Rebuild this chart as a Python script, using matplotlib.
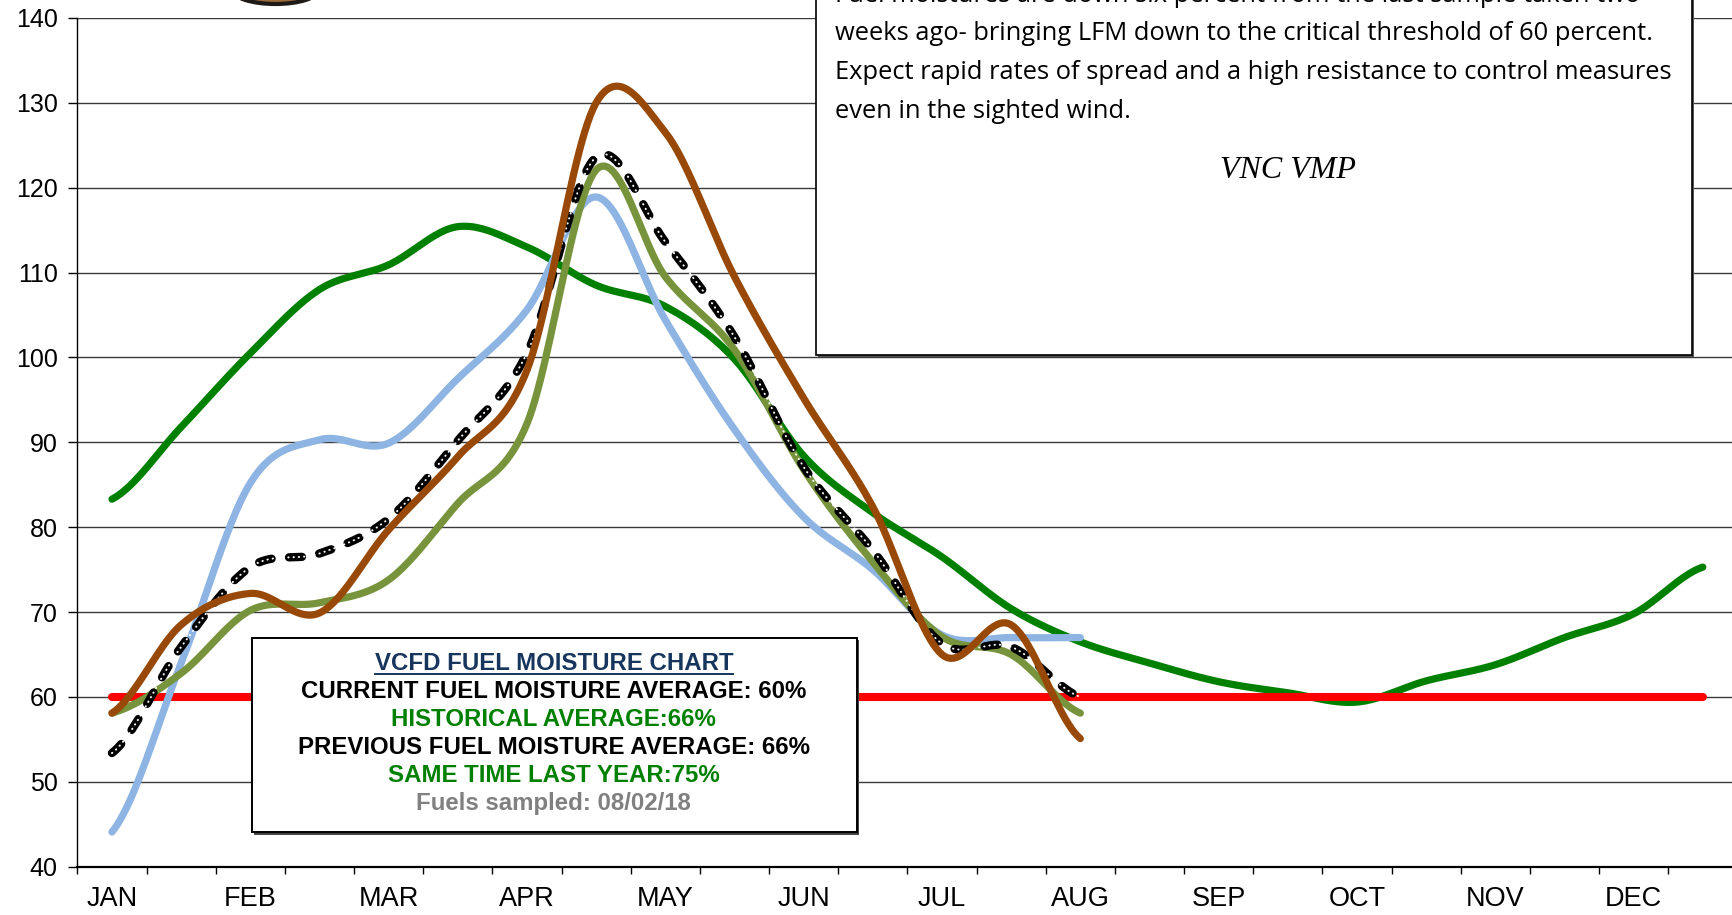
import numpy as np
import matplotlib.pyplot as plt
from matplotlib.patches import Rectangle, Ellipse
from matplotlib.lines import Line2D

# two samples per month, JAN 1 .. DEC 15
months = ['JAN', 'FEB', 'MAR', 'APR', 'MAY', 'JUN',
          'JUL', 'AUG', 'SEP', 'OCT', 'NOV', 'DEC']
historical = [83.3, 91.8, 100.5, 108.0, 110.9, 115.4, 113.0, 108.5, 106.0, 99.8,
              88.4, 81.7, 76.5, 70.4, 66.5, 64.0, 61.8, 60.5, 59.4, 61.9,
              63.8, 67.0, 69.8, 75.3]
current = [53.4, 65.9, 75.3, 76.9, 81.0, 90.2, 100.5, 123.6, 113.6, 102.4,
           87.1, 77.3, 66.3, 65.9, 60.0]
year_blue = [44.1, 64.0, 85.2, 90.3, 89.9, 97.5, 105.6, 118.9, 104.4, 91.5,
             81.2, 75.0, 67.3, 67.0, 67.0]
year_olive = [58.1, 62.8, 70.2, 71.1, 73.8, 82.8, 92.2, 122.1, 109.5, 100.9,
              86.8, 75.9, 67.1, 65.0, 58.1]
year_brown = [58.1, 68.5, 72.2, 69.9, 79.7, 88.3, 98.5, 130.0, 126.5, 109.5,
              95.2, 82.4, 65.0, 68.5, 55.1]
threshold = [60] * 24

W, H = 1733, 915


def smooth(y, n=24):
    # excel style smoothed line (cardinal spline through every point)
    y = np.asarray(y, float)
    p = np.concatenate([[y[0]], y, [y[-1]]])
    t = np.linspace(0, 1, n, endpoint=False)
    xs, ys = [], []
    for i in range(len(y) - 1):
        p0, p1, p2, p3 = p[i], p[i + 1], p[i + 2], p[i + 3]
        m1 = (p2 - p0) / 2
        m2 = (p3 - p1) / 2
        h00 = 2 * t**3 - 3 * t**2 + 1
        h10 = t**3 - 2 * t**2 + t
        h01 = -2 * t**3 + 3 * t**2
        h11 = t**3 - t**2
        xs.append(i + t)
        ys.append(h00 * p1 + h10 * m1 + h01 * p2 + h11 * m2)
    xs.append([len(y) - 1])
    ys.append([y[-1]])
    return np.concatenate(xs), np.concatenate(ys)


def fx(x):
    return x / W


def fy(y):
    return 1 - y / H


fig = plt.figure(figsize=(W / 100, H / 100), dpi=100)
ax = fig.add_axes([fx(77.4), fy(866.8), 1660 / W, 849 / H])

lw = 5.2
x, y = smooth(historical)
ax.plot(x, y, color='#008000', lw=lw, solid_capstyle='round', zorder=2)
ax.plot(range(24), threshold, color='#FF0000', lw=5.8, solid_capstyle='round', zorder=3)
x, y = smooth(year_blue)
ax.plot(x, y, color='#8DB4E2', lw=lw, solid_capstyle='round', zorder=4)
x, y = smooth(year_olive)
ax.plot(x, y, color='#77933C', lw=lw, solid_capstyle='round', zorder=5)
x, y = smooth(current)
ax.plot(x, y, color='black', lw=6, dashes=(1.55, 2.1), dash_capstyle='round', zorder=6)
ax.plot(x, y, color='white', lw=1.4, dashes=(0.2, 2.5), dash_capstyle='round', zorder=6)
x, y = smooth(year_brown)
ax.plot(x, y, color='#984807', lw=lw, solid_capstyle='round', zorder=7)

ax.set_ylim(40, 140)
ax.set_xlim(-0.5, 23.5)
ax.set_yticks(range(40, 141, 10))
ax.yaxis.grid(True, color='#3a3a3a', lw=1)
ax.set_axisbelow(True)
ax.set_xticks(np.arange(-0.5, 24, 1))
ax.set_xticklabels([])
ax.set_xticks(np.arange(0, 24, 2), minor=True)
ax.set_xticklabels(months, minor=True)
ax.tick_params(axis='x', which='major', length=5.3, width=1, color='black', direction='out')
ax.tick_params(axis='x', which='minor', length=0, pad=13.5)
ax.tick_params(axis='y', length=6.3, width=1, pad=8, direction='out')
for lab in ax.get_xticklabels(minor=True):
    lab.set_fontfamily('Liberation Sans')
    lab.set_fontsize(19.5)
for lab in ax.get_yticklabels():
    lab.set_fontfamily('Liberation Sans')
    lab.set_fontsize(18)
for s in ['top', 'right']:
    ax.spines[s].set_visible(False)
ax.spines['left'].set_linewidth(1)
ax.spines['bottom'].set_linewidth(1.6)

# logo edge peeking in at the top
fig.add_artist(Ellipse((fx(275.5), fy(-10)), 86 / W, 28 / H, transform=fig.transFigure,
                       facecolor='#9a6a3a', edgecolor='#1e1a18', lw=3, zorder=8))

# note box
fig.add_artist(Rectangle((fx(818), fy(357)), (1692 - 816) / W, 400 / H, transform=fig.transFigure,
                         facecolor='#555555', edgecolor='none', zorder=8))
fig.add_artist(Rectangle((fx(815.6), fy(354.8)), (1692 - 815.6) / W, 400 / H, transform=fig.transFigure,
                         facecolor='white', edgecolor='black', lw=1.2, zorder=9))
note = ['Fuel moistures are down six percent from the last sample taken two',
        'weeks ago- bringing LFM down to the critical threshold of 60 percent.',
        'Expect rapid rates of spread and a high resistance to control measures',
        'even in the sighted wind.']
for i, line in enumerate(note):
    fig.text(fx(835.5), fy(1.7 + 38.7 * i), line, family='Open Sans', fontsize=18.4,
             ha='left', va='baseline', zorder=10)
fig.text(fx(1288), fy(178), 'VNC VMP', family='Liberation Serif', style='italic',
         fontsize=23, ha='center', va='baseline', zorder=10)

# summary box
fig.add_artist(Rectangle((fx(254), fy(834.5)), (856.5 - 252) / W, (832.2 - 637.7) / H,
                         transform=fig.transFigure, facecolor='#444444', edgecolor='none', zorder=8))
fig.add_artist(Rectangle((fx(252), fy(832.2)), (856.5 - 252) / W, (832.2 - 637.7) / H,
                         transform=fig.transFigure, facecolor='white', edgecolor='black', lw=1.4, zorder=9))
summary = [('VCFD FUEL MOISTURE CHART', '#17365D'),
           ('CURRENT FUEL MOISTURE AVERAGE: 60%', 'black'),
           ('HISTORICAL AVERAGE:66%', '#008000'),
           ('PREVIOUS FUEL MOISTURE AVERAGE: 66%', 'black'),
           ('SAME TIME LAST YEAR:75%', '#008000'),
           ('Fuels sampled: 08/02/18', '#808080')]
baselines = [670, 698.3, 725.5, 754, 781.7, 810]
texts = []
for (line, col), b in zip(summary, baselines):
    texts.append(fig.text(fx(553.9), fy(b), line, family='Liberation Sans', weight='bold',
                          fontsize=17.3, color=col, ha='center', va='baseline', zorder=10))

# underline the box title
fig.canvas.draw()
bb = texts[0].get_window_extent().transformed(fig.transFigure.inverted())
fig.add_artist(Line2D([bb.x0, bb.x1], [fy(673.5)] * 2, transform=fig.transFigure,
                      color='#17365D', lw=1.4, zorder=10))

fig.savefig('out.png', dpi=100)
